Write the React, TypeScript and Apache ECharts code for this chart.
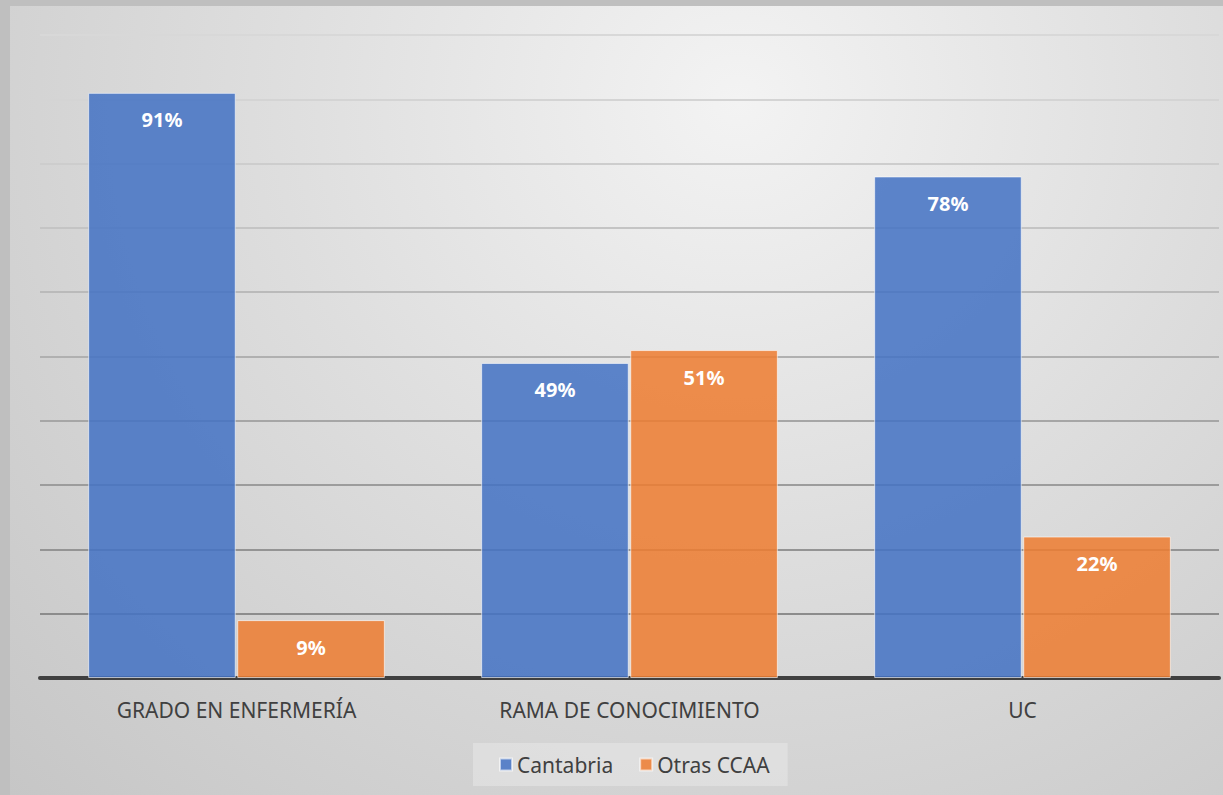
import React, { useEffect, useRef } from "react";
import * as echarts from "echarts";

const categories = ["GRADO EN ENFERMERÍA", "RAMA DE CONOCIMIENTO", "UC"];
const cantabria = [91, 49, 78];
const otras = [9, 51, 22];
const seriesNames = ["Cantabria", "Otras CCAA"];
// split line colours from 0 (bottom) to 100 (top)
const gridColors = ["#8a8a8a", "#8c8c8c", "#949494", "#9c9c9c", "#a6a6a6", "#b0b0b0", "#bababa", "#c4c4c4", "#cdcdcd", "#d4d4d4", "#d8d8d8"];

export default function App() {
  const ref = useRef<HTMLDivElement>(null);
  useEffect(() => {
    document.body.style.margin = "0";
    const chart = echarts.init(ref.current!, null, { renderer: "svg" });
    const font = "'Noto Sans', 'Open Sans', sans-serif";
    const label = {
      show: true,
      position: "insideTop",
      distance: 17,
      color: "#ffffff",
      fontWeight: "bold",
      fontSize: 20,
      fontFamily: font,
      formatter: "{c}%",
    };
    chart.setOption({
      animation: false,
      backgroundColor: "transparent",
      textStyle: { fontFamily: font },
      grid: { left: 40, right: 4, top: 35, bottom: 117, containLabel: false },
      legend: {
        data: seriesNames,
        bottom: 9,
        left: 473,
        icon: "rect",
        itemWidth: 12,
        itemHeight: 12,
        itemGap: 26,
        padding: [11, 18, 11, 26],
        backgroundColor: "rgba(232,232,232,0.55)",
        textStyle: { color: "#404040", fontSize: 21, fontFamily: font },
      },
      xAxis: {
        type: "category",
        data: categories,
        axisTick: { show: false },
        axisLine: { lineStyle: { color: "#404040", width: 4 } },
        axisLabel: { color: "#404040", fontSize: 21, margin: 21, fontFamily: font },
      },
      yAxis: {
        type: "value",
        min: 0,
        max: 100,
        interval: 10,
        axisLabel: { show: false },
        axisLine: { show: false },
        axisTick: { show: false },
        splitLine: { lineStyle: { color: gridColors, width: 2 } },
      },
      series: [
        {
          name: seriesNames[0],
          type: "bar",
          data: cantabria,
          barCategoryGap: "24.5%",
          barGap: "1%",
          itemStyle: { color: "rgba(68,114,196,0.86)", borderColor: "rgba(255,255,255,0.6)", borderWidth: 1 },
          label,
        },
        {
          name: seriesNames[1],
          type: "bar",
          data: otras,
          barCategoryGap: "24.5%",
          barGap: "1%",
          itemStyle: { color: "rgba(237,125,49,0.86)", borderColor: "rgba(255,255,255,0.6)", borderWidth: 1 },
          label,
        },
      ],
    });
    return () => chart.dispose();
  }, []);
  return (
    <div style={{ position: "fixed", left: 0, top: 0, width: 1223, height: 795, background: "#bfbfbf" }}>
      <div
        style={{
          position: "absolute",
          left: 10,
          top: 6,
          width: 1213,
          height: 789,
          background: "radial-gradient(ellipse farthest-corner at 60% 12%, #f3f3f3 0%, #dedede 45%, #c6c6c6 100%)",
        }}
      />
      <div ref={ref} style={{ position: "absolute", left: 0, top: 0, width: 1223, height: 795 }} />
    </div>
  );
}
